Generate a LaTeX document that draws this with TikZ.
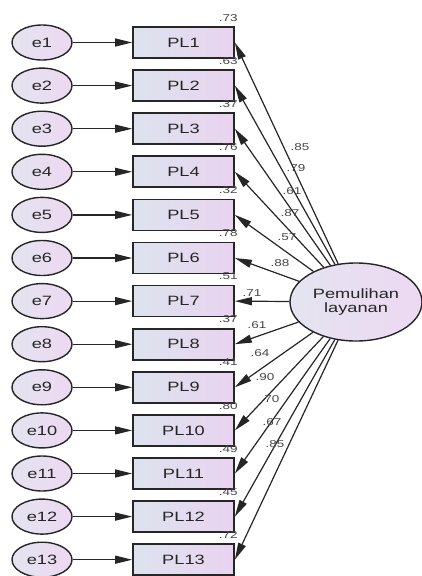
\documentclass[tikz,border=0pt]{standalone}
\usepackage{fontspec}
\setmainfont{Liberation Sans}[FakeStretch=1.35]
\usetikzlibrary{arrows.meta,shapes.geometric,calc}
\definecolor{boxL}{HTML}{DDE3EE}
\definecolor{boxR}{HTML}{E9D3F0}
\definecolor{ellL}{HTML}{E4E4F0}
\definecolor{ellR}{HTML}{EDD8F2}
\definecolor{ink}{HTML}{262626}
\tikzset{
  errnode/.style={ellipse, draw=ink, line width=1.4pt, minimum width=60pt, minimum height=35pt,
    inner sep=0pt, left color=ellL, right color=ellR, font=\fontsize{13.5}{13.5}\selectfont, text=ink},
  obsnode/.style={rectangle, draw=ink, line width=1.7pt, minimum width=101pt, minimum height=31pt,
    inner sep=0pt, left color=boxL, right color=boxR, font=\fontsize{13.5}{13.5}\selectfont, text=ink},
  latnode/.style={ellipse, draw=ink, line width=1.4pt, minimum width=132pt, minimum height=78pt,
    inner sep=0pt, left color=ellL, right color=ellR, font=\fontsize{13.5}{14}\selectfont, text=ink, align=center},
  path/.style={draw=ink, line width=1.2pt, -{Triangle[length=17pt,width=8pt]}},
  est/.style={font=\fontsize{10}{10}\selectfont, text=ink!85, inner sep=0pt},
}
\begin{document}
\begin{tikzpicture}[x=1pt,y=-1pt]
  \fill[white] (0,0) rectangle (422,576);
  \useasboundingbox (0,0) rectangle (422,576);

  % latent factor
  \node[latnode] (lat) at (356,302) {Pemulihan\\layanan};

  % indicators with their error terms and squared multiple correlations
  \foreach \i/\r in {1/.73,2/.63,3/.37,4/.76,5/.32,6/.78,7/.51,8/.37,9/.41,10/.80,11/.49,12/.45,13/.72} {
    \pgfmathsetmacro{\yy}{42.5+43.1*(\i-1)}
    \node[errnode] (e\i) at (42,\yy) {e\i};
    \node[obsnode] (pl\i) at (183.5,\yy) {PL\i};
    \node[est, anchor=base east] (r\i) at ($(pl\i.north east)+(3,-5)$) {\r};
    \draw[path] (e\i) -- (pl\i);
    \draw[path] (lat) -- (pl\i.east);
  }

  % standardized loadings
  \foreach \i/\v/\x/\y in {1/.85/300/147, 2/.79/296/168, 3/.61/292/191, 4/.87/290/213,
      5/.57/287/237, 6/.88/280/263, 7/.71/252/293, 8/.61/257/325, 9/.64/260/353,
      10/.90/265/377, 11/.70/270/399, 12/.67/272/422, 13/.85/275/444} {
    \node[est] (l\i) at (\x,\y) {\v};
  }
\end{tikzpicture}
\end{document}
